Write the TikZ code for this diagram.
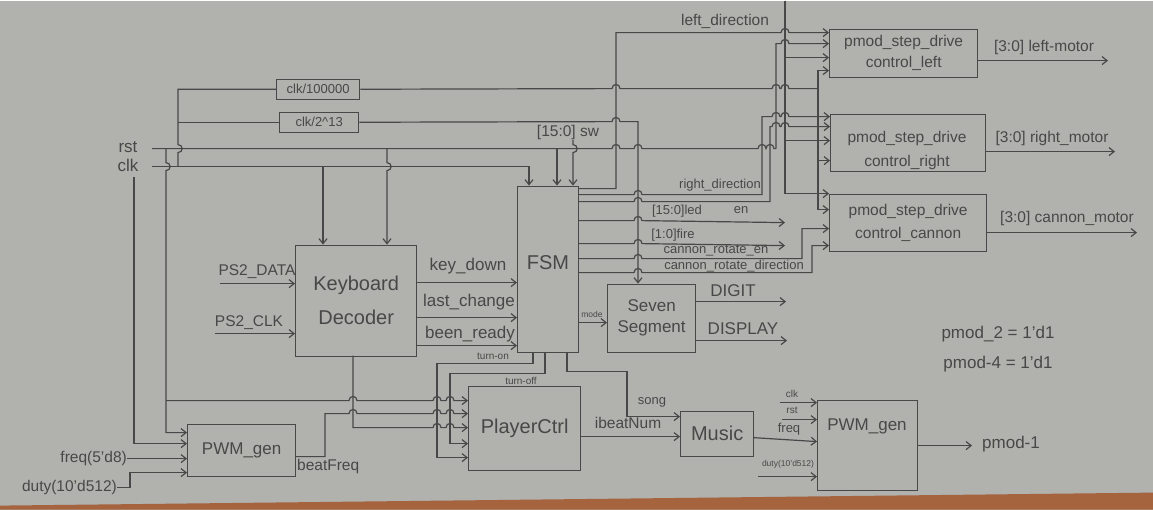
\documentclass[tikz,border=0pt]{standalone}
\usepackage{fontspec}
\setmainfont{Liberation Sans}
\usetikzlibrary{arrows.meta}
\definecolor{paper}{RGB}{177,177,173}
\definecolor{ink}{RGB}{72,72,72}
\definecolor{edgec}{RGB}{165,100,62}
% small wire hops over crossing wires
\newcommand\hopH[2]{-- ({#1-4},#2) .. controls ({#1-4},{#2-5.5}) and ({#1+4},{#2-5.5}) .. ({#1+4},#2)}
\newcommand\hopD[2]{-- (#1,{#2-4}) .. controls ({#1+5.5},{#2-4}) and ({#1+5.5},{#2+4}) .. (#1,{#2+4})}
\newcommand\hopU[2]{-- (#1,{#2+4}) .. controls ({#1+5.5},{#2+4}) and ({#1+5.5},{#2-4}) .. (#1,{#2-4})}
\begin{document}
\begin{tikzpicture}[x=1pt,y=-1pt,
  wire/.style={draw=ink,line width=1.2pt},
  arr/.style={wire,-{Straight Barb[length=5pt,width=8pt]}},
  box/.style={draw=ink,line width=1.3pt,inner sep=0pt,anchor=north west,text=ink,align=center},
  tbig/.style={text=ink,inner sep=0pt,font=\fontsize{20}{24}\selectfont},
  tmid/.style={text=ink,inner sep=0pt,font=\fontsize{17}{20}\selectfont},
  tpm/.style={text=ink,inner sep=0pt,font=\fontsize{15.5}{22}\selectfont},
  tsm/.style={text=ink,inner sep=0pt,font=\fontsize{15.5}{18}\selectfont},
  txs/.style={text=ink,inner sep=0pt,font=\fontsize{13}{15}\selectfont},
  ttn/.style={text=ink,inner sep=0pt,font=\fontsize{10}{12}\selectfont},
  tmic/.style={text=ink,inner sep=0pt,font=\fontsize{8.5}{10}\selectfont}]
% paper
\fill[paper] (0,0) rectangle (1153,509);
\fill[edgec] (0,505) -- (1153,492) -- (1153,509) -- (0,509) -- cycle;

% ---------- blocks ----------
\node[box,minimum width=121pt,minimum height=111pt,font=\fontsize{20}{24}\selectfont] (kbd) at (295,244) {Keyboard\\[10pt]Decoder};
\node[box,minimum width=61pt,minimum height=166pt] (fsm) at (517,185) {};
\node[tbig] (fsmT) at (548,262) {FSM};
\node[box,minimum width=88pt,minimum height=68pt,font=\fontsize{17}{21}\selectfont] (seg) at (607,283) {Seven\\Segment};
\node[box,minimum width=112pt,minimum height=84pt,font=\fontsize{20}{24}\selectfont] (pc) at (468,385) {PlayerCtrl};
\node[box,minimum width=73pt,minimum height=45pt,font=\fontsize{20}{24}\selectfont] (mu) at (680,410) {Music};
\node[box,minimum width=100pt,minimum height=90pt] (pwmR) at (817,399) {};
\node[tmid] (pwmRT) at (867,426) {PWM\_gen};
\node[box,minimum width=108pt,minimum height=52pt,font=\fontsize{17}{20}\selectfont] (pwmL) at (187,423) {PWM\_gen};
\node[box,minimum width=83pt,minimum height=20pt,font=\fontsize{13}{15}\selectfont] (divA) at (276,78) {clk/100000};
\node[box,minimum width=79pt,minimum height=20pt,font=\fontsize{13}{15}\selectfont] (divB) at (279,111) {clk/2\textasciicircum13};
\node[box,minimum width=148pt,minimum height=48pt,font=\fontsize{15.5}{19}\selectfont] (dL) at (829,28) {pmod\_step\_drive\\[2pt]control\_left};
\node[box,minimum width=155pt,minimum height=57pt] (dR) at (830,113) {};
\node[tpm,align=center] (dRT) at (907,150) {pmod\_step\_drive\\[2pt]control\_right};
\node[box,minimum width=157pt,minimum height=57pt,font=\fontsize{15.5}{19}\selectfont] (dC) at (829,193) {pmod\_step\_drive\\[4pt]control\_cannon};

% ---------- left labels ----------
\node[tmid] (rstT) at (128,146) {rst};
\node[tmid] (clkT) at (128,165) {clk};

% ---------- coordinates ----------
\coordinate (rstS) at (152,148);
\coordinate (clkS) at (152,166);
\coordinate (rstV) at (166,148);
\coordinate (clkD) at (178,166);
\coordinate (clkV) at (134,176);
\coordinate (rstE) at (776,148);
\coordinate (fClk) at (529,185);
\coordinate (fRst) at (557,185);
\coordinate (fSw) at (573,185);
\coordinate (kClk) at (323,244);
\coordinate (kRst) at (387,244);
\coordinate (pwmLrst) at (187,432);
\coordinate (pwmLclk) at (187,443);
\coordinate (pcRst) at (468,400);
\coordinate (c100) at (818,88);
\coordinate (dLclk) at (829,70);
\coordinate (dRclk) at (830,160);
\coordinate (dCclk) at (829,209);
\coordinate (segClk) at (638,283);
\coordinate (vTop) at (785,0);
\coordinate (dLv) at (829,57);
\coordinate (dRv) at (830,140);
\coordinate (dCv) at (829,193);
\coordinate (dLrst) at (829,43);
\coordinate (fLd) at (578,188);
\coordinate (dLdir) at (829,32);
\coordinate (fRd) at (578,194);
\coordinate (dRdir) at (830,116);
\coordinate (fEn) at (578,201);
\coordinate (dRen) at (830,126);
\coordinate (fLed) at (578,220);
\coordinate (ledE) at (785,222);
\coordinate (fFire) at (578,243);
\coordinate (fireE) at (785,245);
\coordinate (fRe) at (578,258);
\coordinate (dCen) at (829,228);
\coordinate (fRdir) at (578,272);
\coordinate (dCdir) at (829,245);
\coordinate (fMode) at (578,322);
\coordinate (digE) at (786,301);
\coordinate (dispE) at (787,340);
\coordinate (fKd) at (517,282);
\coordinate (fLc) at (517,317);
\coordinate (fBr) at (517,345);
\coordinate (ps2dS) at (220,283);
\coordinate (ps2cS) at (215,333);
\coordinate (fTon) at (533,351);
\coordinate (pcTon) at (468,457);
\coordinate (fToff) at (545,351);
\coordinate (pcToff) at (468,443);
\coordinate (fSong) at (567,351);
\coordinate (muSong) at (680,416);
\coordinate (muB) at (680,436);
\coordinate (kOut) at (353,355);
\coordinate (pcK) at (468,427);
\coordinate (pwmLout) at (295,456);
\coordinate (pcBf) at (468,413);
\coordinate (pwmLduty) at (187,472);
\coordinate (clkR) at (780,402);
\coordinate (rstR) at (782,419);
\coordinate (muF) at (753,437);
\coordinate (pwmRf) at (817,441);
\coordinate (dutyR) at (758,476);
\coordinate (pm1) at (972,445);
\coordinate (lmE) at (1108,60);
\coordinate (rmE) at (1115,151);
\coordinate (cmE) at (1137,232);

% ---------- clock / reset distribution ----------
\draw[wire] (rstS) \hopH{616}{148} \hopH{638}{148} \hopH{762}{148} \hopH{770}{148} -- (rstE);
\draw[arr] (clkS) -| (fClk);
\draw[arr] (kClk |- clkS) -- (kClk);
\draw[arr] (kRst |- rstS) \hopD{387}{166} -- (kRst);
\draw[arr] (fRst |- rstS) -- (fRst);
\node[tsm] (swT) at (568,132) {[15:0] sw};
\draw[arr] (swT.south -| fSw) \hopD{573}{148} -- (fSw);
\draw[arr] (rstV) \hopD{166}{166} |- (pwmLrst);
\draw[arr] (rstV |- pcRst) \hopH{353}{400} \hopH{437}{400} \hopH{450}{400} -- (pcRst);
\draw[arr] (clkV) |- (pwmLclk);
\draw[wire] (clkD) \hopU{178}{148} |- (divA.west);
\draw[wire] (clkD |- divB.west) -- (divB.west);
\draw[wire] (divA.east) \hopH{616}{88} \hopH{776}{88} \hopH{785}{88} -- (c100);
\draw[arr] (c100) |- (dLclk);
\draw[arr] (c100) |- (dRclk);
\draw[arr] (c100) |- (dCclk);
\draw[arr] (divB.east) \hopH{616}{121} -| (segClk);
\draw[arr] (vTop) |- (dLv);
\draw[arr] (vTop) |- (dRv);
\draw[arr] (vTop) |- (dCv);
\draw[arr] (rstE) -- (776,43) \hopH{785}{43} -- (dLrst);

% ---------- FSM outputs ----------
\draw[arr] (fLd) -| (616,32) \hopH{785}{32} -- (dLdir);
\node[tsm] (ldT) at (725,21) {left\_direction};
\draw[arr] (fRd) \hopH{638}{194} -| (762,116) \hopH{776}{116} \hopH{785}{116} -- (dRdir);
\node[txs] (rdT) at (720,185) {right\_direction};
\draw[arr] (fEn) \hopH{638}{201} -| (770,126) \hopH{776}{126} \hopH{785}{126} -- (dRen);
\draw[arr] (fLed) \hopH{638}{220} -- (ledE);
\node[txs] (ledT) at (677,211) {[15:0]led};
\node[txs] (enT) at (741,209) {en};
\draw[arr] (fFire) \hopH{638}{243} -- (fireE);
\node[txs] (fireT) at (673,235) {[1:0]fire};
\draw[arr] (fRe) \hopH{638}{258} -| (802,240) |- (dCen);
\node[txs] (reT) at (716,250) {cannon\_rotate\_en};
\draw[arr] (fRdir) \hopH{638}{272} -| (812,255) |- (dCdir);
\node[txs] (rdirT) at (734,265) {cannon\_rotate\_direction};
\draw[arr] (fMode) -- (seg.west |- fMode);
\node[tmic] (modeT) at (592,314) {mode};
\draw[arr] (seg.east |- digE) -- (digE);
\node[tmid] (digT) at (733,290) {DIGIT};
\draw[arr] (seg.east |- dispE) -- (dispE);
\node[tmid] (dispT) at (743,328) {DISPLAY};

% ---------- keyboard ----------
\draw[arr] (kbd.east |- fKd) -- (fKd);
\node[tmid] (kdT) at (468,265) {key\_down};
\draw[arr] (kbd.east |- fLc) -- (fLc);
\node[tmid] (lcT) at (469,301) {last\_change};
\draw[arr] (kbd.east |- fBr) -- (fBr);
\node[tmid] (brT) at (470,333) {been\_ready};
\draw[arr] (ps2dS) -- (kbd.west |- ps2dS);
\node[tsm] (pdT) at (257,271) {PS2\_DATA};
\draw[arr] (ps2cS) -- (kbd.west |- ps2cS);
\node[tsm] (pcT2) at (249,322) {PS2\_CLK};

% ---------- player ----------
\draw[arr] (fTon) |- (437,363) |- (pcTon);
\node[ttn] (tonT) at (493,356) {turn-on};
\draw[arr] (fToff) |- (450,373) |- (pcToff);
\node[ttn] (toffT) at (521,380) {turn-off};
\draw[arr] (fSong) |- (627,371) |- (muSong);
\node[txs] (songT) at (652,402) {song};
\draw[arr] (pc.east |- muB) -- (muB);
\node[tsm] (ibT) at (628,422) {ibeatNum};
\draw[arr] (kOut) -- (353,427) \hopH{437}{427} \hopH{450}{427} -- (pcK);
\draw[arr] (pwmLout) -| (325,413) \hopH{353}{413} \hopH{437}{413} \hopH{450}{413} -- (pcBf);
\node[tsm,anchor=west] (bfT) at (297,466) {beatFreq};
\node[tsm,anchor=east] (freqT) at (127,458) {freq(5'd8)};
\draw[arr] (freqT.east) -- (pwmL.west |- freqT);
\node[tsm,anchor=east] (dutyT) at (117,487) {duty(10'd512)};
\draw[arr] (dutyT.east) -| (130,480) |- (pwmLduty);

% ---------- right PWM ----------
\draw[arr] (clkR) -- (pwmR.west |- clkR);
\node[ttn] (clkRT) at (792,393) {clk};
\draw[arr] (rstR) -- (pwmR.west |- rstR);
\node[ttn] (rstRT) at (792,410) {rst};
\draw[arr] (muF) -- (pwmRf);
\node[txs] (freqRT) at (789,429) {freq};
\draw[arr] (dutyR) -- (pwmR.west |- dutyR);
\node[tmic] (dutyRT) at (788,464) {duty(10'd512)};
\draw[arr] (pwmR.east |- pm1) -- (pm1);
\node[tmid,anchor=west] (pm1T) at (982,443) {pmod-1};
\node[tmid] (n2) at (998,333) {pmod\_2 = 1'd1};
\node[tmid] (n4) at (998,363) {pmod-4 = 1'd1};

% ---------- motor outputs ----------
\draw[arr] (dL.east |- lmE) -- (lmE);
\node[tsm] (lmT) at (1044,47) {[3:0] left-motor};
\draw[arr] (dR.east |- rmE) -- (rmE);
\node[tsm] (rmT) at (1052,138) {[3:0] right\_motor};
\draw[arr] (dC.east |- cmE) -- (cmE);
\node[tsm] (cmT) at (1067,218) {[3:0] cannon\_motor};
\end{tikzpicture}
\end{document}
